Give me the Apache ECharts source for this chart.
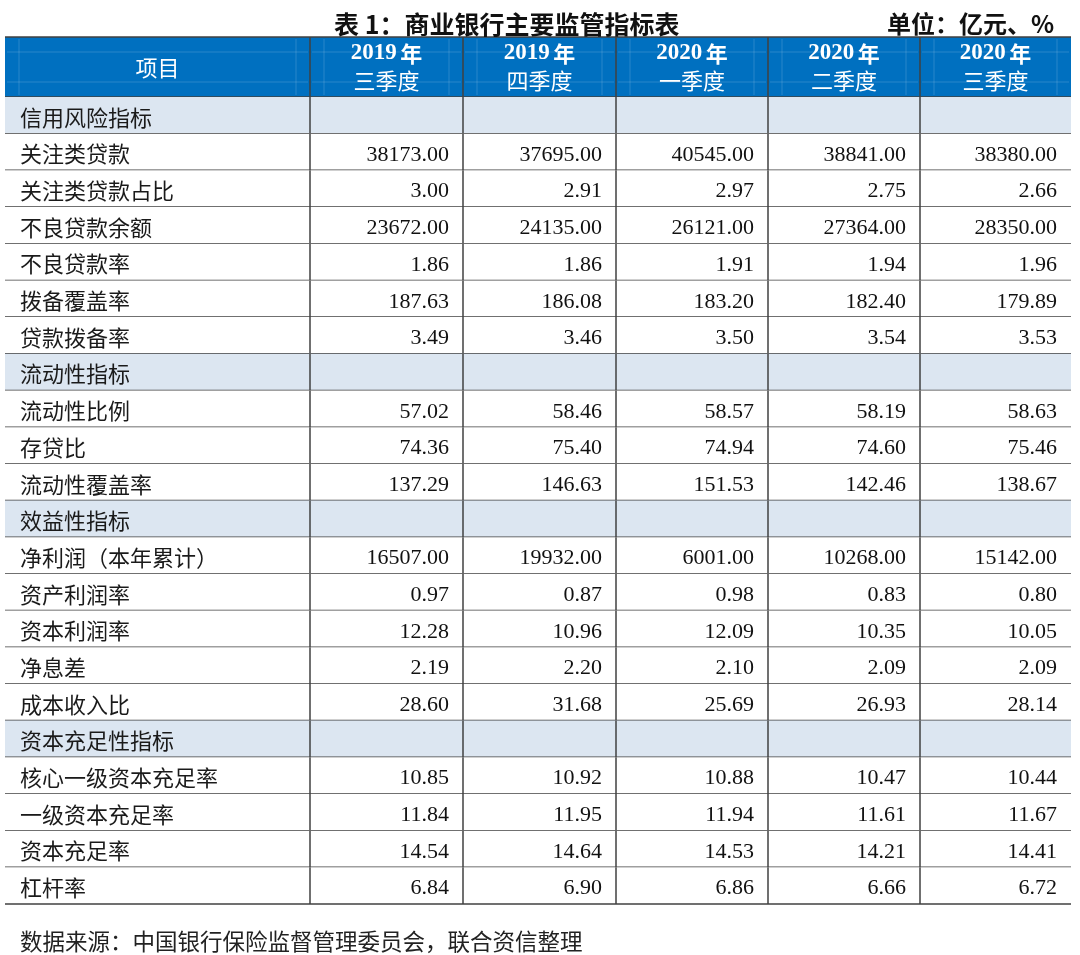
<!DOCTYPE html>
<html>
<head>
<meta charset="utf-8">
<script src="https://cdn.jsdelivr.net/npm/echarts@6/dist/echarts.min.js"></script>
<style>html,body{margin:0;padding:0;background:#fff;}#main{width:1080px;height:955px;}</style>
</head>
<body>
<div id="main"></div>
<script>
// ---------- data ----------
const headerFirst = '项目';
const headerYears = ['2019', '2019', '2020', '2020', '2020'];
const headerQuarters = ['三季度', '四季度', '一季度', '二季度', '三季度'];
const rowLabels = [
  '信用风险指标', '关注类贷款', '关注类贷款占比', '不良贷款余额', '不良贷款率', '拨备覆盖率', '贷款拨备率',
  '流动性指标', '流动性比例', '存贷比', '流动性覆盖率',
  '效益性指标', '净利润（本年累计）', '资产利润率', '资本利润率', '净息差', '成本收入比',
  '资本充足性指标', '核心一级资本充足率', '一级资本充足率', '资本充足率', '杠杆率'
];
const sectionRows = ['信用风险指标', '流动性指标', '效益性指标', '资本充足性指标'];
const q2019Q3 = [null, 38173.00, 3.00, 23672.00, 1.86, 187.63, 3.49, null, 57.02, 74.36, 137.29, null, 16507.00, 0.97, 12.28, 2.19, 28.60, null, 10.85, 11.84, 14.54, 6.84];
const q2019Q4 = [null, 37695.00, 2.91, 24135.00, 1.86, 186.08, 3.46, null, 58.46, 75.40, 146.63, null, 19932.00, 0.87, 10.96, 2.20, 31.68, null, 10.92, 11.95, 14.64, 6.90];
const q2020Q1 = [null, 40545.00, 2.97, 26121.00, 1.91, 183.20, 3.50, null, 58.57, 74.94, 151.53, null, 6001.00, 0.98, 12.09, 2.10, 25.69, null, 10.88, 11.94, 14.53, 6.86];
const q2020Q2 = [null, 38841.00, 2.75, 27364.00, 1.94, 182.40, 3.54, null, 58.19, 74.60, 142.46, null, 10268.00, 0.83, 10.35, 2.09, 26.93, null, 10.47, 11.61, 14.21, 6.66];
const q2020Q3 = [null, 38380.00, 2.66, 28350.00, 1.96, 179.89, 3.53, null, 58.63, 75.46, 138.67, null, 15142.00, 0.80, 10.05, 2.09, 28.14, null, 10.44, 11.67, 14.41, 6.72];
const valueColumns = [q2019Q3, q2019Q4, q2020Q1, q2020Q2, q2020Q3];
const titleText = '表 1：商业银行主要监管指标表';
const unitText = '单位：亿元、%';
const sourceText = '数据来源：中国银行保险监督管理委员会，联合资信整理';

// ---------- layout ----------
const colEdges = [0, 305, 458, 611, 763, 915, 1066];
const headerH = 60;
const bodyH = 807;
const rowH = bodyH / rowLabels.length;
const BLUE = '#0070c0';
const SECTION = '#dce6f1';
const LINE = '#404040';
const CJK = '"Noto Sans CJK SC", sans-serif';
const SERIF = '"Liberation Serif", "Times New Roman", serif';

// build cells
const cells = [];
cells.push({ value: [0, -1], kind: 'header', text: headerFirst });
headerYears.forEach((y, i) => cells.push({ value: [i + 1, -1], kind: 'header', year: y, quarter: headerQuarters[i] }));
rowLabels.forEach((lab, r) => {
  const isSec = sectionRows.indexOf(lab) >= 0;
  cells.push({ value: [0, r], kind: isSec ? 'section' : 'label', text: lab });
  valueColumns.forEach((col, c) => {
    const v = col[r];
    cells.push({ value: [c + 1, r], kind: isSec ? 'section' : 'num', text: v == null ? '' : v.toFixed(2) });
  });
});

function renderItem(params, api) {
  const cell = cells[params.dataIndex];
  const col = api.value(0), row = api.value(1);
  const y0 = row < 0 ? 0 : headerH + row * rowH;
  const y1 = row < 0 ? headerH : headerH + (row + 1) * rowH;
  const p0 = api.coord([colEdges[col], y0]);
  const p1 = api.coord([colEdges[col + 1], y1]);
  const x0 = p0[0], x1 = p1[0], top = p0[1], bot = p1[1];
  const children = [];
  let fill = '#ffffff';
  if (cell.kind === 'header') fill = BLUE;
  else if (cell.kind === 'section') fill = SECTION;
  children.push({ type: 'rect', shape: { x: x0, y: top, width: x1 - x0, height: bot - top }, style: { fill: fill } });
  const cy = (top + bot) / 2;
  const faint = 'rgba(255,255,255,0.16)';
  if (cell.kind === 'header') {
    if (col === 0) {
      children.push({ type: 'text', style: { text: cell.text, x: (x0 + x1) / 2, y: cy + 1, align: 'center', verticalAlign: 'middle', fill: '#fff', font: '22px ' + CJK } });
    } else {
      children.push({ type: 'text', style: {
        text: '{y|' + cell.year + '} {n|年}\n{q|' + cell.quarter + '}',
        x: (x0 + x1) / 2, y: cy, align: 'center', verticalAlign: 'middle',
        rich: {
          y: { fontFamily: SERIF, fontWeight: 'bold', fontSize: 23, fill: '#fff', lineHeight: 27 },
          n: { fontFamily: CJK, fontWeight: 'bold', fontSize: 22, fill: '#fff', lineHeight: 27 },
          q: { fontFamily: CJK, fontSize: 22, fill: '#fff', lineHeight: 27 }
        }
      } });
    }
    children.push({ type: 'line', shape: { x1: x0 + 2, y1: top + 15, x2: x1 - 2, y2: top + 15 }, style: { stroke: faint, lineWidth: 1 } });
    children.push({ type: 'line', shape: { x1: x0 + 2, y1: top + 45, x2: x1 - 2, y2: top + 45 }, style: { stroke: faint, lineWidth: 1 } });
    children.push({ type: 'line', shape: { x1: x0 + 14, y1: top + 2, x2: x0 + 14, y2: bot - 2 }, style: { stroke: faint, lineWidth: 1 } });
    children.push({ type: 'line', shape: { x1: x1 - 14, y1: top + 2, x2: x1 - 14, y2: bot - 2 }, style: { stroke: faint, lineWidth: 1 } });
    children.push({ type: 'line', shape: { x1: x0, y1: top, x2: x1, y2: top }, style: { stroke: LINE, lineWidth: 1.5 } });
  } else if (cell.kind === 'section' || cell.kind === 'label') {
    if (cell.text) {
      children.push({ type: 'text', style: { text: cell.text, x: x0 + 15, y: cy + 2, align: 'left', verticalAlign: 'middle', fill: '#1a1a1a', font: '22px ' + CJK } });
    }
  } else {
    children.push({ type: 'text', style: { text: cell.text, x: x1 - 14, y: cy + 3, align: 'right', verticalAlign: 'middle', fill: '#111', font: '22px ' + SERIF } });
  }
  children.push({ type: 'line', shape: { x1: x0, y1: bot, x2: x1, y2: bot }, style: { stroke: LINE, lineWidth: 1.5 } });
  if (col > 0) {
    children.push({ type: 'line', shape: { x1: x0, y1: top, x2: x0, y2: bot }, style: { stroke: LINE, lineWidth: 1.5 } });
  }
  return { type: 'group', children: children };
}

const chart = echarts.init(document.getElementById('main'), null, { renderer: 'canvas' });
chart.setOption({
  animation: false,
  backgroundColor: '#ffffff',
  title: [
    { text: titleText, left: 329, top: 7, textStyle: { fontFamily: CJK, fontSize: 25, fontWeight: 'bold', color: '#111' } },
    { text: unitText, right: 21, top: 7, textStyle: { fontFamily: CJK, fontSize: 24, fontWeight: 'bold', color: '#111' } },
    { text: sourceText, left: 15, top: 925, textStyle: { fontFamily: CJK, fontSize: 22.5, fontWeight: 'normal', color: '#222' } }
  ],
  grid: { left: 5, top: 37, width: 1066, height: headerH + bodyH },
  xAxis: { type: 'value', min: 0, max: colEdges[colEdges.length - 1], show: false },
  yAxis: { type: 'value', min: 0, max: headerH + bodyH, inverse: true, show: false },
  series: [{
    type: 'custom',
    renderItem: renderItem,
    clip: false,
    dimensions: ['col', 'row'],
    encode: { x: 'col', y: 'row' },
    data: cells.map(c => c.value)
  }]
});
</script>
</body>
</html>
